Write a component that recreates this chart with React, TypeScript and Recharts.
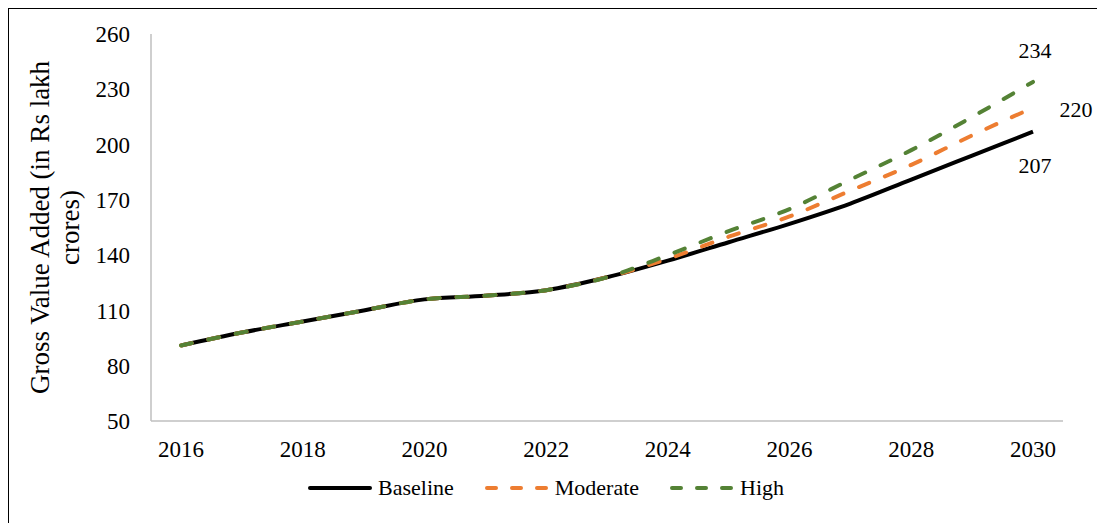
import { LineChart, Line, XAxis, YAxis, Legend, LabelList } from "recharts";

const years = [2016, 2017, 2018, 2019, 2020, 2021, 2022, 2023, 2024, 2025, 2026, 2027, 2028, 2029, 2030];
const baseline = [91, 98, 104, 110, 116, 118, 121, 128, 137, 147, 157, 168, 181, 194, 207];
const moderate = [91, 98, 104, 110, 116, 118, 121, 128, 138, 150, 161, 175, 189, 205, 220];
const high = [91, 98, 104, 110, 116, 118, 121, 128, 140, 153, 165, 181, 197, 215, 234];
const yTicks = [50, 80, 110, 140, 170, 200, 230, 260];

const data = years.map((year, i) => ({
  year,
  Baseline: baseline[i],
  Moderate: moderate[i],
  High: high[i],
}));

const FONT = "'Liberation Serif', 'Times New Roman', serif";
const AXIS = "#BFBFBF";
const ORANGE = "#ED7D31";
const GREEN = "#548235";
const DASH = "11 17";

const legendItems = [
  { name: "Baseline", color: "#000", dash: undefined as string | undefined },
  { name: "Moderate", color: ORANGE, dash: "9 16" },
  { name: "High", color: GREEN, dash: "9 16" },
];

function LegendContent() {
  return (
    <div style={{ display: "flex", alignItems: "center", fontFamily: FONT, fontSize: 22, color: "#000" }}>
      {legendItems.map((item) => (
        <span key={item.name} style={{ display: "flex", alignItems: "center", marginRight: 30 }}>
          <svg width={66} height={10} style={{ marginRight: 5 }}>
            <line
              x1={3}
              y1={5}
              x2={63}
              y2={5}
              stroke={item.color}
              strokeWidth={4}
              strokeLinecap="round"
              strokeDasharray={item.dash}
            />
          </svg>
          {item.name}
        </span>
      ))}
    </div>
  );
}

function endLabel(dx: number, dy: number) {
  return (props: any) => {
    const { x, y, value, index } = props;
    if (index !== years.length - 1) return null;
    return (
      <text x={x + dx} y={y + dy} textAnchor="middle" dominantBaseline="central" fontFamily={FONT} fontSize={22} fill="#000">
        {value}
      </text>
    );
  };
}

// two-line rotated axis title, centred on the plot height
function YTitle() {
  const cy = 218.5;
  return (
    <g fontFamily={FONT} fontSize={27} fill="#000">
      <text x={40} y={cy} textAnchor="middle" transform={`rotate(-90, 40, ${cy})`}>
        Gross Value Added (in Rs lakh
      </text>
      <text x={70} y={cy} textAnchor="middle" transform={`rotate(-90, 70, ${cy})`}>
        crores)
      </text>
    </g>
  );
}

export default function App() {
  return (
    <div
      style={{
        marginLeft: -1,
        marginTop: -1,
        borderLeft: "2px solid #000",
        borderTop: "2px solid #000",
        width: 1096,
        height: 515,
        background: "#fff",
      }}
    >
      <LineChart width={1096} height={514} data={data} margin={{ top: 25, right: 42, bottom: 62, left: 0 }}>
        <XAxis
          dataKey="year"
          interval={1}
          padding={{ left: 30, right: 30 }}
          tickLine={false}
          tickSize={0}
          tickMargin={20}
          axisLine={{ stroke: AXIS, strokeWidth: 1.5 }}
          height={40}
          tick={{ fontFamily: FONT, fontSize: 23, fill: "#000" }}
        />
        <YAxis
          domain={[50, 260]}
          ticks={yTicks}
          width={142}
          tickLine={false}
          tickSize={0}
          tickMargin={21}
          axisLine={{ stroke: AXIS, strokeWidth: 1.5 }}
          tick={{ fontFamily: FONT, fontSize: 23, fill: "#000" }}
          label={{ content: YTitle }}
        />
        <Legend
          layout="horizontal"
          verticalAlign="middle"
          align="center"
          content={LegendContent}
          wrapperStyle={{ top: 466, left: 298, width: "auto" }}
        />
        <Line
          type="monotone"
          dataKey="Baseline"
          stroke="#000"
          strokeWidth={4}
          dot={false}
          isAnimationActive={false}
        >
          <LabelList dataKey="Baseline" content={endLabel(2, 34)} />
        </Line>
        <Line
          type="monotone"
          dataKey="Moderate"
          stroke={ORANGE}
          strokeWidth={4}
          strokeDasharray={DASH}
          strokeLinecap="round"
          dot={false}
          isAnimationActive={false}
        >
          <LabelList dataKey="Moderate" content={endLabel(43, 2)} />
        </Line>
        <Line
          type="monotone"
          dataKey="High"
          stroke={GREEN}
          strokeWidth={4}
          strokeDasharray={DASH}
          strokeLinecap="round"
          dot={false}
          isAnimationActive={false}
        >
          <LabelList dataKey="High" content={endLabel(2, -31)} />
        </Line>
      </LineChart>
    </div>
  );
}
